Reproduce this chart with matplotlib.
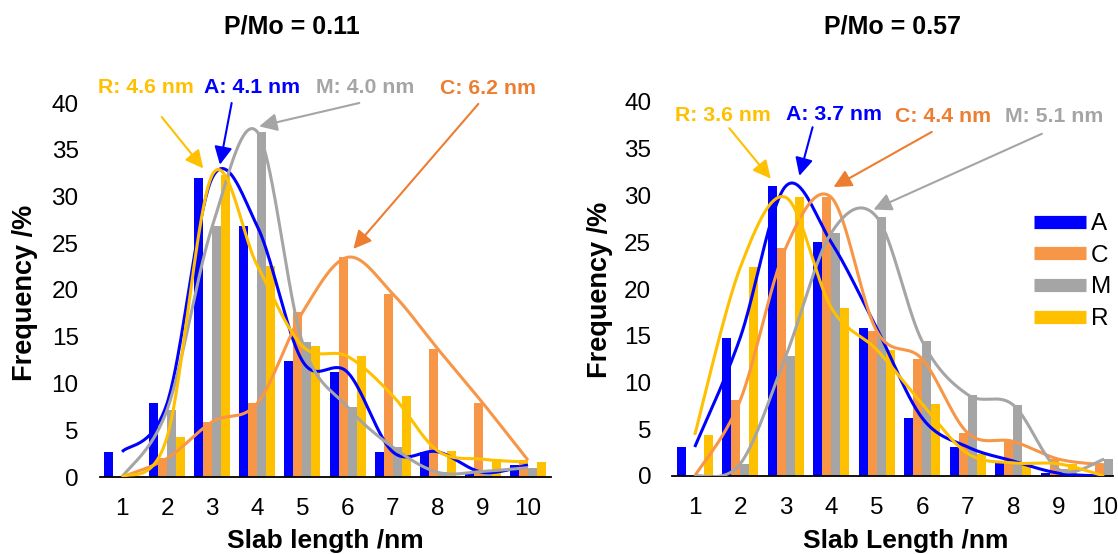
import numpy as np
import matplotlib
matplotlib.use('Agg')
import matplotlib.pyplot as plt
from matplotlib.lines import Line2D

plt.rcParams['font.family'] = ['Liberation Sans', 'DejaVu Sans']

sizes = [1, 2, 3, 4, 5, 6, 7, 8, 9, 10]
series = ['A', 'C', 'M', 'R']

# P/Mo = 0.11
left_A = [2.7, 7.9, 32.0, 26.8, 12.4, 11.2, 2.7, 2.7, 0.5, 1.3]
left_C = [0.0, 2.0, 5.9, 7.9, 17.6, 23.5, 19.6, 13.7, 7.9, 1.8]
left_M = [0.0, 7.2, 26.8, 36.9, 14.4, 7.5, 3.2, 0.5, 0.6, 1.0]
left_R = [0.0, 4.3, 32.3, 22.6, 14.0, 12.9, 8.7, 2.8, 1.9, 1.6]

# P/Mo = 0.57
right_A = [3.1, 14.8, 31.0, 25.0, 15.8, 6.2, 3.1, 1.6, 0.3, 0.0]
right_C = [0.0, 8.1, 24.4, 29.8, 15.5, 12.5, 4.6, 3.7, 1.8, 1.2]
right_M = [0.0, 1.3, 12.8, 26.0, 27.7, 14.4, 8.7, 7.6, 0.7, 1.8]
right_R = [4.4, 22.3, 29.8, 18.0, 13.5, 7.7, 2.4, 1.4, 1.3, 0.0]

left_labels = ['R: 4.6 nm', 'A: 4.1 nm', 'M: 4.0 nm', 'C: 6.2 nm']
right_labels = ['R: 3.6 nm', 'A: 3.7 nm', 'C: 4.4 nm', 'M: 5.1 nm']

bar_colors = {'A': '#0000FF', 'C': '#F79646', 'M': '#A5A5A5', 'R': '#FFC000'}
note_colors = {'A': '#0000FF', 'C': '#ED7D31', 'M': '#A5A5A5', 'R': '#FFC000'}


# excel style smoothed line (bezier through the points)
def smooth(x, y, n=40):
    p = np.column_stack([x, y]).astype(float)
    out = []
    for i in range(len(p) - 1):
        p0 = p[i - 1] if i > 0 else p[i]
        p1 = p[i]
        p2 = p[i + 1]
        p3 = p[i + 2] if i + 2 < len(p) else p[i + 1]
        c1 = p1 + (p2 - p0) / 6
        c2 = p2 - (p3 - p1) / 6
        t = np.linspace(0, 1, n)[:, None]
        seg = (1 - t) ** 3 * p1 + 3 * (1 - t) ** 2 * t * c1 + 3 * (1 - t) * t ** 2 * c2 + t ** 3 * p2
        out.append(seg)
    out = np.vstack(out)
    return out[:, 0], out[:, 1]


def panel(ax, data, xmax):
    x = np.array(sizes)
    offsets = [-0.3, -0.1, 0.1, 0.3]
    for s, off in zip(series, offsets):
        ax.bar(x + off, data[s], width=0.2, color=bar_colors[s], zorder=2)
    for s in series:
        sx, sy = smooth(x, data[s])
        ax.plot(sx, sy, color=bar_colors[s], lw=2.2, zorder=3, solid_capstyle='butt')
    ax.set_xlim(0.5, xmax)
    ax.set_ylim(0, 40)
    ax.set_xticks(sizes)
    ax.set_yticks(range(0, 41, 5))
    ax.tick_params(axis='both', length=0, labelsize=17.5)
    ax.tick_params(axis='x', pad=15)
    ax.tick_params(axis='y', pad=15)
    for sp in ['top', 'right', 'left']:
        ax.spines[sp].set_visible(False)
    ax.spines['bottom'].set_linewidth(1.3)


def note(ax, text, color, txy, start, tip):
    ax.text(txy[0], txy[1], text, color=color, fontsize=15.3, fontweight='bold',
            ha='center', va='center', clip_on=False)
    ax.annotate('', xy=tip, xytext=start, annotation_clip=False,
                arrowprops=dict(arrowstyle='-|>,head_length=0.6,head_width=0.3',
                                color=color, lw=1.5, mutation_scale=18,
                                shrinkA=0, shrinkB=0))


fig = plt.figure(figsize=(11.18, 5.54), dpi=100)
ax1 = fig.add_axes([99.5 / 1118, 77 / 554, 451 / 1118, 374 / 554])
ax2 = fig.add_axes([672 / 1118, 78 / 554, 441.3 / 1118, 374 / 554])

panel(ax1, {'A': left_A, 'C': left_C, 'M': left_M, 'R': left_R}, 10.5)
panel(ax2, {'A': right_A, 'C': right_C, 'M': right_M, 'R': right_R}, 10.2)

# annotations, left
note(ax1, left_labels[0], note_colors['R'], (1.52, 41.7), (1.88, 38.5), (2.80, 33.0))
note(ax1, left_labels[1], note_colors['A'], (3.88, 41.7), (3.43, 40.0), (3.17, 33.4))
note(ax1, left_labels[2], note_colors['M'], (6.38, 41.7), (6.26, 40.0), (4.04, 37.5))
note(ax1, left_labels[3], note_colors['C'], (9.12, 41.6), (8.90, 39.9), (6.13, 24.4))

# annotations, right
note(ax2, right_labels[0], note_colors['R'], (1.63, 38.6), (1.76, 37.2), (2.67, 31.8))
note(ax2, right_labels[1], note_colors['A'], (4.05, 38.7), (3.59, 37.3), (3.30, 32.1))
note(ax2, right_labels[2], note_colors['C'], (6.46, 38.4), (6.21, 36.8), (4.05, 30.9))
note(ax2, right_labels[3], note_colors['M'], (8.91, 38.5), (8.63, 36.6), (4.93, 28.5))

fig.text(292 / 1118, 1 - 27 / 554, 'P/Mo = 0.11', fontsize=18, fontweight='bold', ha='center', va='center')
fig.text(893 / 1118, 1 - 27 / 554, 'P/Mo = 0.57', fontsize=18, fontweight='bold', ha='center', va='center')
fig.text(325 / 1118, 1 - 541 / 554, 'Slab length /nm', fontsize=19, fontweight='bold', ha='center', va='center')
fig.text(906 / 1118, 1 - 541 / 554, 'Slab Length /nm', fontsize=19, fontweight='bold', ha='center', va='center')
fig.text(25 / 1118, 1 - 293 / 554, 'Frequency /%', fontsize=19.5, fontweight='bold', ha='center', va='center', rotation=90)
fig.text(600 / 1118, 1 - 290 / 554, 'Frequency /%', fontsize=19.5, fontweight='bold', ha='center', va='center', rotation=90)

handles = [Line2D([0], [0], color=bar_colors[s], lw=9.5, solid_capstyle='butt') for s in series]
fig.legend(handles, series, loc='upper left', bbox_to_anchor=(1034 / 1118, 1 - 213 / 554),
           frameon=False, fontsize=17.5, handlelength=2.15, handletextpad=0.2,
           labelspacing=0.4, borderpad=0, borderaxespad=0)

fig.savefig('out.png', dpi=100)
